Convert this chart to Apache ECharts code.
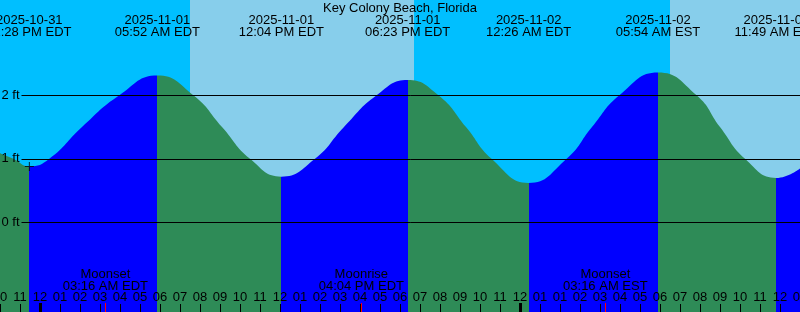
<!DOCTYPE html>
<html><head><meta charset="utf-8">
<script src="https://cdn.jsdelivr.net/npm/echarts@6/dist/echarts.min.js"></script>
<style>html,body{margin:0;padding:0;background:#fff}#c{width:800px;height:312px}</style>
</head><body><div id="c"></div>
<script>
const stationName = 'Key Colony Beach, Florida';
// time axis: hours elapsed since 2025-11-01 00:00 EDT
const tideTimes = [-2, -1.33, -0.533, 0.467, 2.1, 3.967, 5.867, 7.667, 9.1, 10.5, 12.067, 13.75, 15.2, 16.83, 18.383, 19.92, 21.3, 22.58, 24.433, 26.33, 27.6, 28.97, 30.9, 32.83, 34.0, 35.25, 36.817, 38];
const tideHeights = [1.09, 1.0, 0.88, 1.0, 1.5, 2.0, 2.31, 2.0, 1.5, 1.0, 0.72, 1.0, 1.5, 2.0, 2.24, 2.0, 1.5, 1.0, 0.62, 1.0, 1.5, 2.0, 2.36, 2.0, 1.5, 1.0, 0.70, 0.85];
const extremeTimes = [-0.533, 5.867, 12.067, 18.383, 24.433, 30.9, 36.817];
const extremeTypes = ['low', 'high', 'low', 'high', 'low', 'high', 'low'];
const extremeLabels = [
  '2025-10-31\n11:28 PM EDT', '2025-11-01\n05:52 AM EDT', '2025-11-01\n12:04 PM EDT',
  '2025-11-01\n06:23 PM EDT', '2025-11-02\n12:26 AM EDT', '2025-11-02\n05:54 AM EST',
  '2025-11-02\n11:49 AM EST'
];
const sunriseTimes = [7.5, 31.5];
const sunsetTimes = [18.7];
const moonTimes = [3.267, 16.067, 28.267];
const moonLabels = ['Moonset\n03:16 AM EDT', 'Moonrise\n04:04 PM EDT', 'Moonset\n03:16 AM EST'];
const hourTicks = [-2, -1, 0, 1, 2, 3, 4, 5, 6, 7, 8, 9, 10, 11, 12, 13, 14, 15, 16, 17, 18, 19, 20, 21, 22, 23, 24, 25, 26, 27, 28, 29, 30, 31, 32, 33, 34, 35, 36, 37, 38];
const hourLabels = ['10', '11', '12', '01', '02', '03', '04', '05', '06', '07', '08', '09', '10', '11', '12', '01', '02', '03', '04', '05', '06', '07', '08', '09', '10', '11', '12', '01', '01', '02', '03', '04', '05', '06', '07', '08', '09', '10', '11', '12', '01'];
const midnightTimes = [0, 24];
const depthLevels = [0, 1, 2];
const depthLabels = ['0 ft', '1 ft', '2 ft'];

const X_MIN = -2, X_MAX = 38, Y_MIN = -1.41, Y_MAX = 3.5, GRID_START = -0.925;
const FONT = 'Liberation Sans';
const NIGHT = '#00BFFF', DAY = '#87CEEB', FLOOD = '#0000FF', EBB = '#2E8B57';

// sky ranges
const skyRanges = [];
{
  const events = [];
  sunriseTimes.forEach(t => events.push([t, 'rise']));
  sunsetTimes.forEach(t => events.push([t, 'set']));
  events.sort((a, b) => a[0] - b[0]);
  let start = X_MIN;
  let isDay = events.length ? events[0][1] === 'set' : false;
  events.forEach(e => {
    skyRanges.push([{ xAxis: start, itemStyle: { color: isDay ? DAY : NIGHT } }, { xAxis: e[0] }]);
    start = e[0];
    isDay = e[1] === 'rise';
  });
  skyRanges.push([{ xAxis: start, itemStyle: { color: isDay ? DAY : NIGHT } }, { xAxis: X_MAX }]);
}

// flood/ebb pieces
const pieces = [];
pieces.push({ lt: extremeTimes[0], color: extremeTypes[0] === 'low' ? EBB : FLOOD });
for (let i = 0; i < extremeTimes.length; i++) {
  const c = extremeTypes[i] === 'low' ? FLOOD : EBB;
  if (i < extremeTimes.length - 1) pieces.push({ gte: extremeTimes[i], lt: extremeTimes[i + 1], color: c });
  else pieces.push({ gte: extremeTimes[i], color: c });
}

const textBase = { color: '#000', fontFamily: FONT, fontSize: 13 };
const baseX = { type: 'value', min: X_MIN, max: X_MAX, axisLine: { show: false, onZero: false }, splitLine: { show: false } };

const chart = echarts.init(document.getElementById('c'), null, { renderer: 'canvas' });
chart.setOption({
  animation: false,
  backgroundColor: '#fff',
  title: {
    text: stationName, left: 'center', top: 1, padding: 0,
    textStyle: Object.assign({ fontWeight: 'normal', lineHeight: 14 }, textBase)
  },
  grid: { left: 0, right: 0, top: 0, bottom: 0, containLabel: false, outerBoundsMode: 'none' },
  visualMap: { type: 'piecewise', show: false, dimension: 0, seriesIndex: 1, pieces: pieces },
  xAxis: [
    Object.assign({}, baseX, {
      position: 'bottom', z: 10,
      axisTick: { show: true, inside: true, length: 8, customValues: hourTicks, lineStyle: { color: '#000', width: 1 } },
      axisLabel: Object.assign({ inside: true, margin: 9, lineHeight: 12, customValues: hourTicks,
        formatter: v => hourLabels[hourTicks.indexOf(Math.round(v))] }, textBase)
    }),
    Object.assign({}, baseX, {
      position: 'bottom', z: 11,
      axisTick: { show: true, inside: true, length: 9, customValues: midnightTimes, lineStyle: { color: '#000', width: 3 } },
      axisLabel: { show: false }
    }),
    Object.assign({}, baseX, {
      position: 'bottom', z: 11,
      axisTick: { show: true, inside: true, length: 9, customValues: moonTimes, lineStyle: { color: '#FF0000', width: 1 } },
      axisLabel: Object.assign({ inside: true, margin: 20, lineHeight: 12, customValues: moonTimes,
        formatter: v => moonLabels[moonTimes.findIndex(m => Math.abs(m - v) < 1e-6)] }, textBase)
    }),
    Object.assign({}, baseX, {
      position: 'top', z: 11,
      axisTick: { show: false },
      axisLabel: Object.assign({ inside: true, margin: 14, lineHeight: 12, customValues: extremeTimes,
        formatter: v => extremeLabels[extremeTimes.findIndex(m => Math.abs(m - v) < 1e-6)] }, textBase)
    })
  ],
  yAxis: { type: 'value', min: Y_MIN, max: Y_MAX, show: false },
  series: [
    {
      type: 'line', data: [], z: 1, silent: true,
      markArea: { silent: true, data: skyRanges }
    },
    {
      type: 'line', z: 2, silent: true, smooth: 0.5, showSymbol: false,
      data: tideTimes.map((t, i) => [t, tideHeights[i]]),
      lineStyle: { width: 0 },
      areaStyle: { opacity: 1, origin: 'start' }
    },
    {
      type: 'line', data: [], z: 3, silent: true,
      markLine: {
        silent: true, symbol: ['none', 'none'], animation: false,
        lineStyle: { color: '#000', width: 1, type: 'solid' },
        label: Object.assign({ position: 'start', distance: 2, formatter: p => p.name }, textBase),
        data: depthLevels.map((v, i) => [
          { coord: [GRID_START, v], name: depthLabels[i] },
          { coord: [X_MAX, v], name: depthLabels[i] }
        ])
      }
    },
    {
      type: 'scatter', z: 4, silent: true,
      symbol: 'path://M-0.5,-4.5h1v9h-1z M-4.5,-0.5h9v1h-9z', symbolSize: 9,
      itemStyle: { color: '#000' },
      data: [[extremeTimes[0], tideHeights[tideTimes.indexOf(extremeTimes[0])]]]
    }
  ]
});
</script>
</body></html>
